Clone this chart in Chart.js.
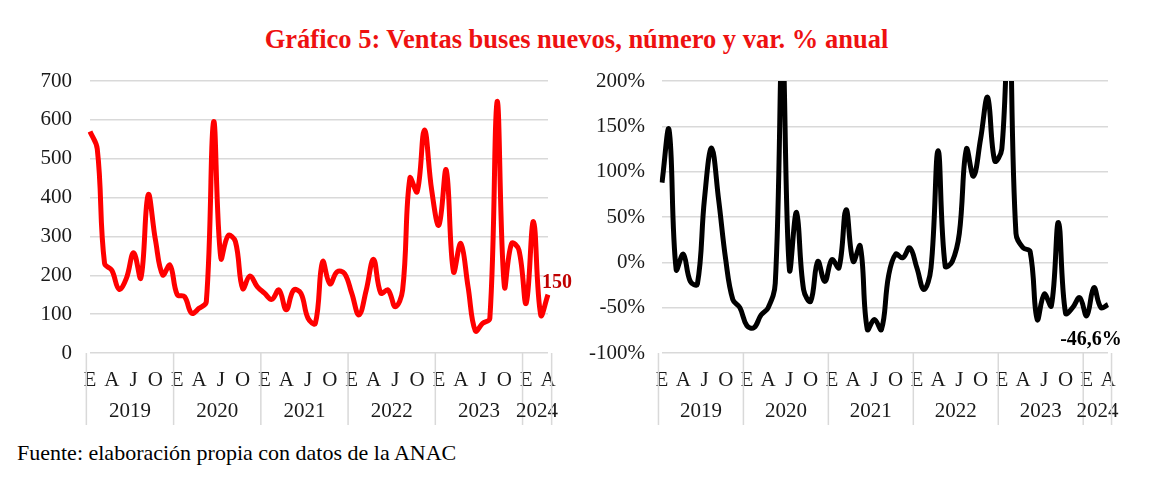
<!DOCTYPE html>
<html lang="es">
<head>
<meta charset="utf-8">
<script src="https://cdn.jsdelivr.net/npm/chart.js@4.4.1/dist/chart.umd.min.js"></script>
<style>
  html, body { margin: 0; padding: 0; background: #fff; }
  body { width: 1170px; height: 495px; position: relative; overflow: hidden;
         font-family: "Liberation Serif", "Times New Roman", serif; }
  #titulo { position: absolute; left: 0; top: 24px; width: 1153px; text-align: center;
            color: #ee1111; font-weight: bold; font-size: 26.5px; line-height: 30px; }
  #fuente { position: absolute; left: 17px; top: 440px; font-size: 22px; line-height: 26px; color: #000; }
  .caja { position: absolute; top: 60px; }
  #caja1 { left: 0; }
  #caja2 { left: 580px; }
</style>
</head>
<body>
<div id="titulo">Gráfico 5: Ventas buses nuevos, número y var. % anual</div>
<div class="caja" id="caja1"><canvas id="ventas" width="580" height="380"></canvas></div>
<div class="caja" id="caja2"><canvas id="variacion" width="590" height="380"></canvas></div>
<div id="fuente">Fuente: elaboración propia con datos de la ANAC</div>

<script>
// datos
var anios = ['2019', '2020', '2021', '2022', '2023', '2024'];
var mesesPorAnio = [12, 12, 12, 12, 12, 4];
var letrasMes = ['E', 'F', 'M', 'A', 'M', 'J', 'J', 'A', 'S', 'O', 'N', 'D'];

// unidades vendidas por mes
var ventas = [
  570, 525, 231, 213, 164, 192, 258, 193, 407, 291, 201, 226,
  150, 145, 102, 115, 132, 595, 244, 302, 287, 166, 198, 171,
  154, 138, 162, 111, 162, 154, 89, 76, 235, 178, 209, 205,
  154, 98, 162, 241, 154, 162, 119, 162, 450, 415, 574, 419,
  329, 471, 209, 282, 171, 57, 76, 89, 647, 171, 282, 265,
  128, 338, 98, 150
];

// variacion % anual
var variacion = [
  88, 146, -8, 9, -21, -24, 70, 126, 69, 3, -41, -50,
  -70, -72, -58, -50, -23, 240, -8, 55, -30, -43, 1, -21,
  3, -6, 58, 1, 18, -74, -63, -74, -15, 9, 5, 16,
  -6, -30, -6, 123, -4, 1, 32, 125, 95, 136, 182, 112,
  125, 280, 32, 16, 12, -63, -35, -48, 44, -56, -50, -39,
  -59, -28, -50, -46.6
];

var ticksVentas = [0, 700, 100];
var ticksVariacion = [-100, 200, 50];

var etiquetas = [];
anios.forEach(function(a, k) {
  for (var m = 0; m < mesesPorAnio[k]; m++) etiquetas.push(letrasMes[m] + ' ' + a);
});

var fuenteSerif = '"Liberation Serif", "Times New Roman", serif';
var gris = '#d9d9d9';
var tamTexto = 21;

// lineas divisorias y años bajo el eje
var divisiones = {
  id: 'divisiones',
  afterDraw: function(chart) {
    var ctx = chart.ctx, x = chart.scales.x, area = chart.chartArea;
    var paso = x.getPixelForValue(1) - x.getPixelForValue(0);
    var inicio = 0, x1 = 0;
    ctx.save();
    ctx.strokeStyle = gris;
    ctx.lineWidth = 1.5;
    ctx.fillStyle = '#1a1a1a';
    ctx.font = tamTexto + 'px ' + fuenteSerif;
    ctx.textAlign = 'center';
    ctx.textBaseline = 'middle';
    anios.forEach(function(a, k) {
      var n = mesesPorAnio[k];
      var x0 = x.getPixelForValue(inicio) - paso / 2;
      x1 = x.getPixelForValue(inicio + n - 1) + paso / 2;
      ctx.beginPath();
      ctx.moveTo(x0, area.bottom);
      ctx.lineTo(x0, area.bottom + 72);
      ctx.stroke();
      ctx.fillText(a, (x0 + x1) / 2, area.bottom + 58);
      inicio += n;
    });
    ctx.beginPath();
    ctx.moveTo(x1, area.bottom);
    ctx.lineTo(x1, area.bottom + 72);
    ctx.stroke();
    ctx.restore();
  }
};

// etiqueta del ultimo dato
var ultimoDato = {
  id: 'ultimoDato',
  afterDatasetsDraw: function(chart, args, opts) {
    var meta = chart.getDatasetMeta(0);
    var p = meta.data[meta.data.length - 1];
    var ctx = chart.ctx;
    ctx.save();
    ctx.fillStyle = opts.color;
    ctx.font = 'bold 20px ' + fuenteSerif;
    ctx.textAlign = 'center';
    ctx.textBaseline = 'middle';
    ctx.fillText(opts.texto, p.x + opts.dx, p.y + opts.dy);
    ctx.restore();
  }
};

function crearGrafico(id, datos, color, rango, formato, anchoEje, padDer, padTicks, etiqueta) {
  return new Chart(document.getElementById(id), {
    type: 'line',
    data: {
      labels: etiquetas,
      datasets: [{
        data: datos,
        borderColor: color,
        borderWidth: 5,
        pointRadius: 0,
        tension: 0.4,
        fill: false
      }]
    },
    options: {
      responsive: false,
      animation: false,
      layout: { padding: { top: 21, right: padDer, left: 0, bottom: 0 } },
      plugins: {
        legend: { display: false },
        tooltip: { enabled: false },
        ultimoDato: etiqueta
      },
      scales: {
        x: {
          type: 'category',
          grid: { display: false },
          border: { display: false },
          ticks: {
            autoSkip: false,
            maxRotation: 0,
            padding: 7,
            color: '#1a1a1a',
            font: { family: fuenteSerif, size: tamTexto },
            callback: function(v, i) {
              var m = i % 12;
              return (m % 3 === 0) ? letrasMes[m] : '';
            }
          },
          afterFit: function(s) { s.height = 87; }
        },
        y: {
          min: rango[0],
          max: rango[1],
          grid: { color: gris, lineWidth: 1.5, drawTicks: false },
          border: { display: false },
          ticks: {
            stepSize: rango[2],
            padding: padTicks,
            color: '#1a1a1a',
            font: { family: fuenteSerif, size: tamTexto },
            callback: formato
          },
          afterFit: function(s) {
            s.width = anchoEje;
            s.paddingTop = 12;
            s.paddingBottom = 12;
          }
        }
      }
    },
    plugins: [divisiones, ultimoDato]
  });
}

crearGrafico('ventas', ventas, '#ff0000', ticksVentas,
  function(v) { return v; }, 90, 32, 18,
  { texto: '150', color: '#c00000', dx: 9, dy: -12 });

crearGrafico('variacion', variacion, '#000000', ticksVariacion,
  function(v) { return v + '%'; }, 82, 62, 17,
  { texto: '-46,6%', color: '#000000', dx: -17, dy: 35 });
</script>
</body>
</html>
